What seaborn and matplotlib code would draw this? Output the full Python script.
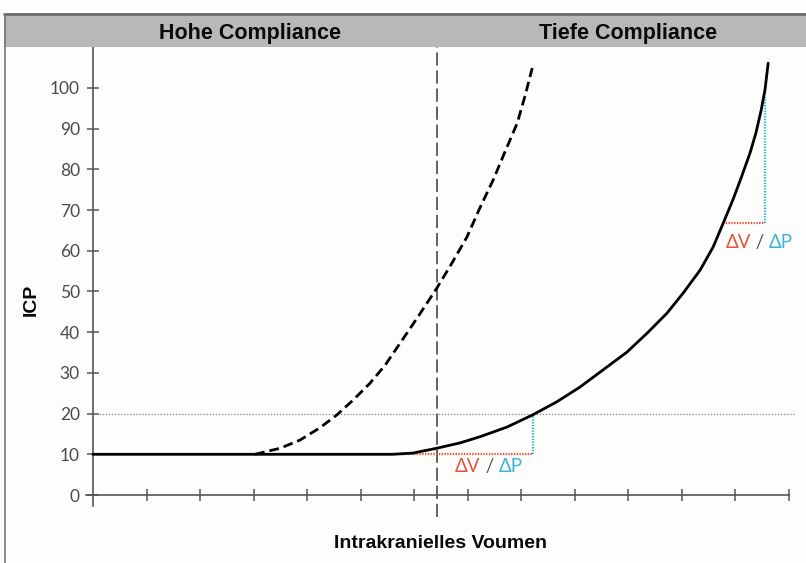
import matplotlib
matplotlib.use("Agg")
import matplotlib.pyplot as plt
import seaborn as sns
import pandas as pd
from matplotlib.patches import Rectangle
from matplotlib.lines import Line2D
from matplotlib.offsetbox import TextArea, HPacker, AnnotationBbox

# ---- data ----
low_comp_x = [0.0, 5.60, 5.98, 6.43, 6.86, 7.23, 7.74, 8.22, 8.67, 9.10, 9.53, 9.98, 10.36,
              10.73, 11.03, 11.35, 11.59, 11.78, 11.96, 12.12, 12.28, 12.39, 12.49, 12.56, 12.62]
low_comp_y = [10.0, 10.0, 10.3, 11.5, 12.8, 14.3, 16.7, 19.7, 22.9, 26.5, 30.7, 35.1, 39.8,
              44.7, 49.6, 55.3, 60.9, 66.8, 72.5, 78.1, 84.0, 88.9, 94.6, 99.5, 106.1]

high_comp_x = [3.03, 3.50, 3.87, 4.24, 4.56, 4.86, 5.18, 5.46, 5.74, 6.07, 6.43, 6.71,
               6.99, 7.23, 7.48, 7.70, 7.93, 8.07, 8.21]
high_comp_y = [10.0, 11.5, 13.5, 16.5, 19.7, 23.3, 27.5, 31.9, 37.3, 43.7, 50.9, 57.0,
               63.4, 70.5, 77.4, 84.3, 91.4, 97.8, 104.9]

y_ticks = [0, 10, 20, 30, 40, 50, 60, 70, 80, 90, 100]
x_ticks = [1, 2, 3, 4, 5, 6, 7, 8, 9, 10, 11, 12, 13]
boundary_x = 6.43
threshold_y = 20
threshold_x_end = 13.1

# delta annotations: (x_start, x_end, y_low, y_high)
delta1 = [5.74, 8.22, 10.0, 19.7]
delta2 = [11.78, 12.56, 66.8, 97.8]
delta_labels_pos = [(7.4, 6.9), (12.45, 62.0)]

header_labels = ["Hohe Compliance", "Tiefe Compliance"]
x_label = "Intrakranielles Voumen"
y_label = "ICP"

# ---- styling ----
sns.set_theme(style="white")
plt.rcParams["font.family"] = ["Lato", "DejaVu Sans"]
plt.rcParams["lines.scale_dashes"] = False

W, H = 806, 563
fig = plt.figure(figsize=(W / 100, H / 100), dpi=100)
bg = "#fdfdfb"
fig.patch.set_facecolor(bg)

px_per_x = 53.5
px_per_y = 4.07
x0_px, y0_px = 93, 495
xlim = (-0.5, 13.3)
top_px = 47.3
ylim = (-(H - y0_px) / px_per_y, (y0_px - top_px) / px_per_y)
left_px = x0_px + xlim[0] * px_per_x
right_px = x0_px + xlim[1] * px_per_x
ax = fig.add_axes([left_px / W, 0, (right_px - left_px) / W, (H - top_px) / H])
ax.set_facecolor(bg)
ax.set_xlim(*xlim)
ax.set_ylim(*ylim)

axis_col = "#555555"
for s in ["top", "right"]:
    ax.spines[s].set_visible(False)
ax.spines["left"].set_position(("data", 0))
ax.spines["bottom"].set_position(("data", 0))
ax.spines["left"].set_bounds(-2.7, ylim[1])
ax.spines["bottom"].set_bounds(-0.13, 13.0)
for s in ["left", "bottom"]:
    ax.spines[s].set_color(axis_col)
    ax.spines[s].set_linewidth(1.2)

ax.set_yticks(y_ticks)
ax.set_yticklabels([str(v) for v in y_ticks])
ax.set_xticks(x_ticks)
ax.set_xticklabels([])
ax.tick_params(axis="both", which="major", bottom=True, left=True, direction="inout",
               length=9, width=1.1, color=axis_col)
ax.tick_params(axis="y", labelsize=12.5, labelcolor="#4a4a4a", pad=5)

# reference lines
ax.plot([0, threshold_x_end], [threshold_y, threshold_y], color="#8a8a8a", lw=0.9,
        linestyle=(0, (1, 1.2)), zorder=1)
vline = Line2D([boundary_x, boundary_x], [-5.4, ylim[1]], color="#555555", lw=1.3, zorder=1)
vline.set_dashes([9.5, 3.5])
ax.add_line(vline)

# curves
df_low = pd.DataFrame({"V": low_comp_x, "ICP": low_comp_y})
df_high = pd.DataFrame({"V": high_comp_x, "ICP": high_comp_y})
sns.lineplot(data=df_low, x="V", y="ICP", ax=ax, color="black", lw=2.0, sort=False,
             estimator=None, zorder=4)
ax.lines[-1].set_solid_joinstyle("round")
sns.lineplot(data=df_high, x="V", y="ICP", ax=ax, color="black", lw=2.0, sort=False,
             estimator=None, zorder=4, dashes=False)
ax.lines[-1].set_dashes([7, 3.6])
ax.lines[-1].set_dash_capstyle("butt")

red = "#e5533d"
blue = "#3bb2da"
for (xa, xb, ya, yb) in [delta1, delta2]:
    ax.plot([xa, xb], [ya, ya], color=red, lw=1.6, linestyle=(0, (1, 1)), zorder=3)
    ax.plot([xb, xb], [ya, yb], color=blue, lw=1.6, linestyle=(0, (1, 1)), zorder=3)

for (tx, ty) in delta_labels_pos:
    parts = [("ΔV", red), (" / ", "#555555"), ("ΔP", blue)]
    boxes = [TextArea(s, textprops=dict(color=c, fontsize=13.5, family=["Lato", "DejaVu Sans"]))
             for s, c in parts]
    pack = HPacker(children=boxes, align="baseline", pad=0, sep=0)
    ab = AnnotationBbox(pack, (tx, ty), frameon=False, box_alignment=(0.5, 0.5), zorder=5)
    ax.add_artist(ab)

ax.set_xlabel("")
ax.set_ylabel("")

# header band and frame
fig.patches.append(Rectangle((4 / W, 1 - 47.3 / H), 1, (47.3 - 13.3) / H,
                             transform=fig.transFigure, facecolor="#b8b8b8",
                             edgecolor="none", zorder=0))
fig.lines.append(Line2D([4 / W, 1], [1 - 13.5 / H, 1 - 13.5 / H], transform=fig.transFigure,
                        color="#666666", lw=1.8))
fig.lines.append(Line2D([4.5 / W, 4.5 / W], [0, 1 - 13.5 / H], transform=fig.transFigure,
                        color="#777777", lw=1.2))

bold_font = ["Liberation Sans", "DejaVu Sans"]
fig.text(250 / W, 1 - 33.5 / H, header_labels[0], ha="center", va="center",
         fontsize=15.5, fontweight="bold", family=bold_font, color="#0a0a0a")
fig.text(628 / W, 1 - 33.5 / H, header_labels[1], ha="center", va="center",
         fontsize=15.5, fontweight="bold", family=bold_font, color="#0a0a0a")
fig.text(441 / W, 1 - 543 / H, x_label, ha="center", va="center",
         fontsize=14, fontweight="bold", family=bold_font, color="#0a0a0a")
fig.text(31 / W, 1 - 300 / H, y_label, ha="center", va="center", rotation=90,
         fontsize=14, fontweight="bold", family=bold_font, color="#0a0a0a")

fig.savefig("out.png", dpi=100, facecolor=bg)
